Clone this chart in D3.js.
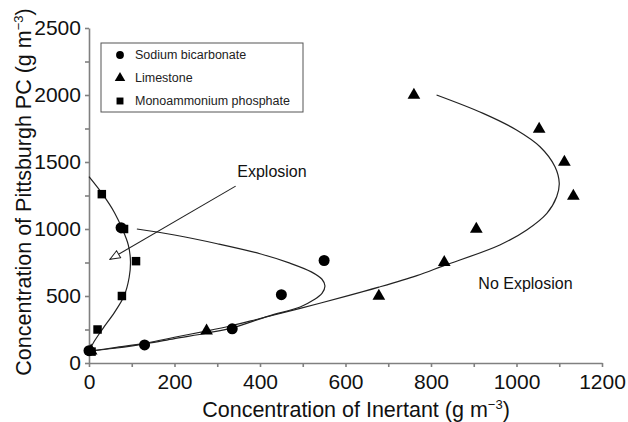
<!DOCTYPE html>
<html lang="en">
<head>
<meta charset="utf-8">
<script src="https://d3js.org/d3.v7.min.js"></script>
<title>Inertant chart</title>
<style>
  body {margin: 0; background: #fff;}
  svg {display: block; font-family: "Liberation Sans", Arial, sans-serif;}
  .axis path, .axis line {stroke: #808080; stroke-width: 1.6px;}
  .axis text {font-size: 21px; fill: #111;}
  .fit {fill: none; stroke: #222; stroke-width: 1.2px;}
</style>
</head>
<body>
<svg width="628" height="422"></svg>
<script>
  // measured points
  var sodiumX = [0, 130, 335, 450, 550, 75];
  var sodiumY = [92, 135, 255, 510, 765, 1010];
  var limeX = [5, 275, 678, 831, 906, 760, 1053, 1112, 1133];
  var limeY = [90, 240, 500, 751, 1000, 2000, 1746, 1500, 1246];
  var phosX = [30, 82, 110, 77, 20, 6];
  var phosY = [1260, 1000, 760, 500, 250, 85];

  // fitted curves
  var sodiumFitX = [112, 200, 300, 400, 470, 520, 545, 552, 545, 525, 494, 420, 335, 277, 200, 136, 60, 2];
  var sodiumFitY = [1000, 955, 890, 815, 745, 680, 625, 575, 520, 470, 418, 350, 262, 224, 182, 145, 110, 88];
  var limeFitX = [2, 60, 136, 200, 277, 335, 400, 494, 600, 678, 767, 829, 961, 1024, 1071, 1094, 1100, 1090, 1055, 1000, 922, 813];
  var limeFitY = [88, 115, 150, 192, 240, 280, 332, 408, 497, 566, 652, 725, 881, 993, 1117, 1241, 1341, 1465, 1614, 1739, 1863, 2000];
  var phosFitX = [0, 33, 60, 78, 92, 97, 94, 82, 60, 32, 12, 0];
  var phosFitY = [1390, 1254, 1120, 1000, 880, 760, 640, 500, 380, 255, 160, 88];

  var xTicks = [0, 100, 200, 300, 400, 500, 600, 700, 800, 900, 1000, 1100, 1200];
  var yTicks = [0, 250, 500, 750, 1000, 1250, 1500, 1750, 2000, 2250, 2500];
  var seriesNames = ['Sodium bicarbonate', 'Limestone', 'Monoammonium phosphate'];
  var seriesSymbols = [d3.symbolCircle, d3.symbolTriangle, d3.symbolSquare];

  var svg = d3.select('svg');
  var x = d3.scaleLinear().domain([0, 1200]).range([89, 602]);
  var y = d3.scaleLinear().domain([0, 2500]).range([363, 28]);

  // axes
  svg.append('g').attr('class', 'axis').attr('transform', 'translate(0,363)')
    .call(d3.axisBottom(x).tickValues(xTicks).tickSize(4).tickSizeOuter(0)
      .tickFormat(d => d % 200 === 0 ? d : ''))
    .selectAll('text').attr('dy', '0.9em');
  svg.append('g').attr('class', 'axis').attr('transform', 'translate(89,0)')
    .call(d3.axisLeft(y).tickValues(yTicks).tickSize(4).tickSizeOuter(0)
      .tickFormat(d => d % 500 === 0 ? d : ''))
    .selectAll('text').attr('dx', '-0.05em');

  // axis titles
  var xt = svg.append('text').attr('x', 356).attr('y', 417).attr('text-anchor', 'middle')
    .attr('font-size', 21.5).attr('fill', '#111').text('Concentration of Inertant (g m');
  xt.append('tspan').attr('dy', -8).attr('font-size', 13).text('\u22123');
  xt.append('tspan').attr('dy', 8).text(')');

  var yt = svg.append('text').attr('transform', 'translate(31,192) rotate(-90)')
    .attr('text-anchor', 'middle').attr('font-size', 21.5).attr('fill', '#111')
    .text('Concentration of Pittsburgh PC (g m');
  yt.append('tspan').attr('dy', -8).attr('font-size', 13).text('\u22123');
  yt.append('tspan').attr('dy', 8).text(')');

  // fitted curves
  var line = d3.line().x(d => x(d[0])).y(d => y(d[1])).curve(d3.curveCatmullRom.alpha(0.5));
  [[phosFitX, phosFitY], [sodiumFitX, sodiumFitY], [limeFitX, limeFitY]].forEach(function (c) {
    svg.append('path').attr('class', 'fit').attr('d', line(d3.zip(c[0], c[1])));
  });

  // points
  var sets = [[sodiumX, sodiumY, 95], [limeX, limeY, 70], [phosX, phosY, 72]];
  sets.forEach(function (s, i) {
    svg.append('g').selectAll('path').data(d3.zip(s[0], s[1])).enter().append('path')
      .attr('d', d3.symbol().type(seriesSymbols[i]).size(s[2]))
      .attr('transform', d => 'translate(' + x(d[0]) + ',' + y(d[1]) + ')')
      .attr('fill', '#000');
  });

  // annotation arrow
  svg.append('defs').append('marker').attr('id', 'open').attr('viewBox', '0 0 12 10')
    .attr('refX', 11).attr('refY', 5).attr('markerWidth', 12).attr('markerHeight', 10)
    .attr('markerUnits', 'userSpaceOnUse').attr('orient', 'auto')
    .append('path').attr('d', 'M1,1 L11,5 L1,9 Z').attr('fill', '#fff').attr('stroke', '#222');
  svg.append('line').attr('x1', x(343)).attr('y1', y(1320)).attr('x2', x(49)).attr('y2', y(774))
    .attr('stroke', '#222').attr('stroke-width', 1.1).attr('marker-end', 'url(#open)');
  svg.append('text').attr('x', x(428)).attr('y', y(1388)).attr('text-anchor', 'middle')
    .attr('font-size', 16).attr('fill', '#111').text('Explosion');
  svg.append('text').attr('x', x(1021)).attr('y', y(552)).attr('text-anchor', 'middle')
    .attr('font-size', 16).attr('fill', '#111').text('No Explosion');

  // legend
  var lg = svg.append('g').attr('transform', 'translate(101,43)');
  lg.append('rect').attr('width', 202).attr('height', 69).attr('fill', '#fff')
    .attr('stroke', '#555').attr('stroke-width', 1);
  seriesNames.forEach(function (n, i) {
    lg.append('path').attr('d', d3.symbol().type(seriesSymbols[i]).size(48))
      .attr('transform', 'translate(19,' + (12 + i * 23) + ')');
    lg.append('text').attr('x', 34).attr('y', 12 + i * 23).attr('dy', '0.35em')
      .attr('font-size', 12.5).attr('fill', '#222').text(n);
  });
</script>
</body>
</html>
